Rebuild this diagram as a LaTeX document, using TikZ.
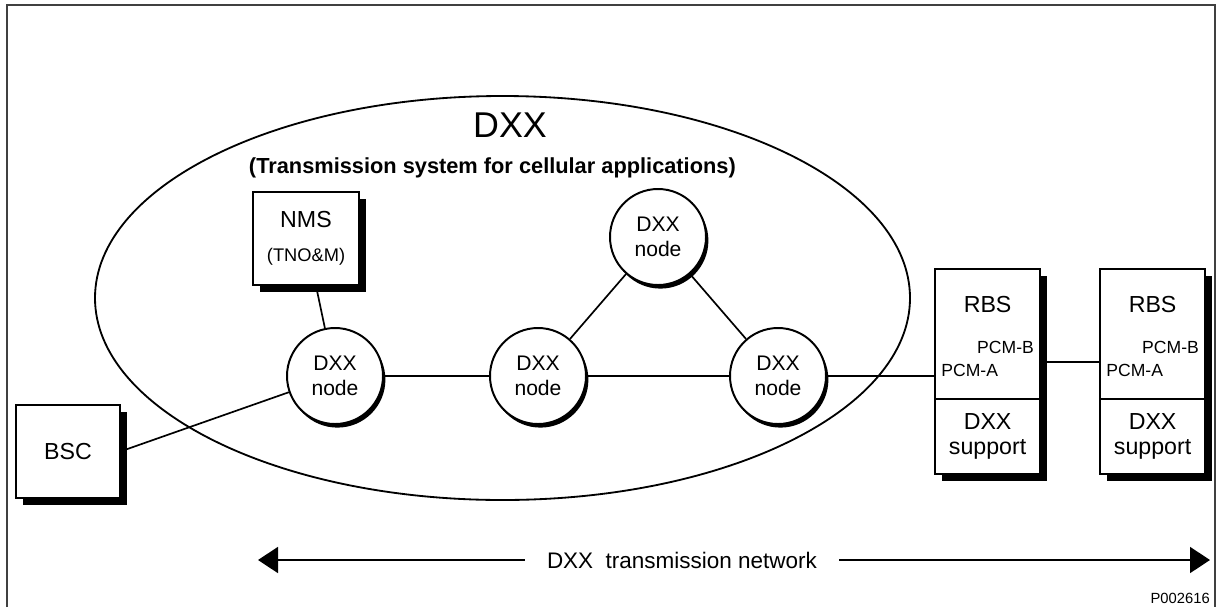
\documentclass[tikz,border=0pt]{standalone}
\usepackage{fontspec}
\setmainfont{Liberation Sans}
\usetikzlibrary{positioning,shadows,arrows.meta}

\begin{document}
\begin{tikzpicture}[
    frame/.style={draw=black!75, line width=1pt},
    zone/.style={draw=black, line width=1.3pt},
    box/.style={draw=black, line width=1.2pt, fill=white, minimum width=2.625cm, inner sep=0pt, outer sep=0pt, align=center,
        font=\fontsize{16.5}{18}\selectfont,
        drop shadow={shadow xshift=0.175cm, shadow yshift=-0.175cm, fill=black, opacity=1}},
    dxxnode/.style={circle, draw=black, line width=1.4pt, fill=white, minimum size=2.4cm, inner sep=0pt, align=center,
        font=\fontsize{15}{18}\selectfont,
        drop shadow={shadow xshift=0.06cm, shadow yshift=-0.09cm, fill=black, opacity=1}},
    link/.style={draw=black, line width=1.2pt},
    boxtext/.style={font=\fontsize{16.5}{18}\selectfont, inner sep=0pt},
    pcm/.style={font=\fontsize{12.5}{14}\selectfont, inner sep=0pt},
    heading/.style={font=\fontsize{25.5}{28}\selectfont},
    subheading/.style={font=\fontsize{15.5}{18}\selectfont\bfseries},
    netlabel/.style={fill=white, inner xsep=0.55cm, font=\fontsize{16}{18}\selectfont},
    tag/.style={font=\fontsize{10.5}{12}\selectfont, inner sep=0pt}
]
\useasboundingbox (0,0) rectangle (30.45,-15.175);

% Outer frame
\draw[frame] (0.175,-15.175) -- (0.175,-0.125) -- (30.375,-0.125) -- (30.375,-15.175);

% DXX system
\draw[zone] (12.5625,-7.45) ellipse [x radius=10.1875, y radius=5.05];
\node[heading] (title) at (12.75,-3.125) {DXX};
\node[subheading] (subtitle) at (12.31,-4.2) {(Transmission system for cellular applications)};

% NMS and BSC
\node[box, minimum width=2.65cm, minimum height=2.325cm] (nms) at (7.65,-5.96) {NMS\\[6pt]{\fontsize{13}{15}\selectfont(TNO\&M)}};
\node[box, minimum width=2.6cm, minimum height=2.325cm] (bsc) at (1.7,-11.29) {BSC};

% DXX nodes
\node[dxxnode] (nodeL) at (8.375,-9.4) {DXX\\node};
\node[dxxnode] (nodeM) at (13.45,-9.4) {DXX\\node};
\node[dxxnode] (nodeR) at (19.45,-9.4) {DXX\\node};
\node[dxxnode] (nodeT) at (16.45,-5.925) {DXX\\node};

% RBS sites
\node[box, minimum height=3.25cm] (rbsA) at (24.69,-8.35) {};
\node[box, minimum height=1.875cm, below=0pt of rbsA] (supA) {DXX\\support};
\node[box, minimum height=3.25cm, right=1.5cm of rbsA] (rbsB) {};
\node[box, minimum height=1.875cm, below=0pt of rbsB] (supB) {DXX\\support};

\node[boxtext] (rbsAtxt) at ([yshift=-0.9cm]rbsA.north) {RBS};
\node[pcm, anchor=east] (pcmBA) at ([xshift=-0.15cm, yshift=-0.325cm]rbsA.east) {PCM-B};
\node[pcm, anchor=west] (pcmAA) at ([xshift=0.15cm, yshift=-0.9cm]rbsA.west) {PCM-A};
\node[boxtext] (rbsBtxt) at ([yshift=-0.9cm]rbsB.north) {RBS};
\node[pcm, anchor=east] (pcmBB) at ([xshift=-0.15cm, yshift=-0.325cm]rbsB.east) {PCM-B};
\node[pcm, anchor=west] (pcmAB) at ([xshift=0.15cm, yshift=-0.9cm]rbsB.west) {PCM-A};

% Links
\draw[link] (nms) -- (nodeL);
\draw[link] (bsc.east) -- (nodeL);
\draw[link] (nodeL) -- (nodeM);
\draw[link] (nodeM) -- (nodeR);
\draw[link] (nodeM) -- (nodeT);
\draw[link] (nodeT) -- (nodeR);
\draw[link] (nodeR.east) -- (nodeR.east -| rbsA.west);
\draw[link] ([yshift=-0.7cm]rbsA.east) -- ([yshift=-0.7cm]rbsB.west);

% Network span
\coordinate (netL) at (6.45,-14.0);
\coordinate (netR) at (30.25,-14.0);
\draw[link, {Triangle[length=0.5cm, width=0.65cm]}-{Triangle[length=0.5cm, width=0.65cm]}] (netL) -- (netR);
\node[netlabel] (net) at (17.05,-14.0) {DXX\ \ transmission network};

\node[tag, anchor=east] (code) at (30.25,-14.95) {P002616};

\end{tikzpicture}
\end{document}
